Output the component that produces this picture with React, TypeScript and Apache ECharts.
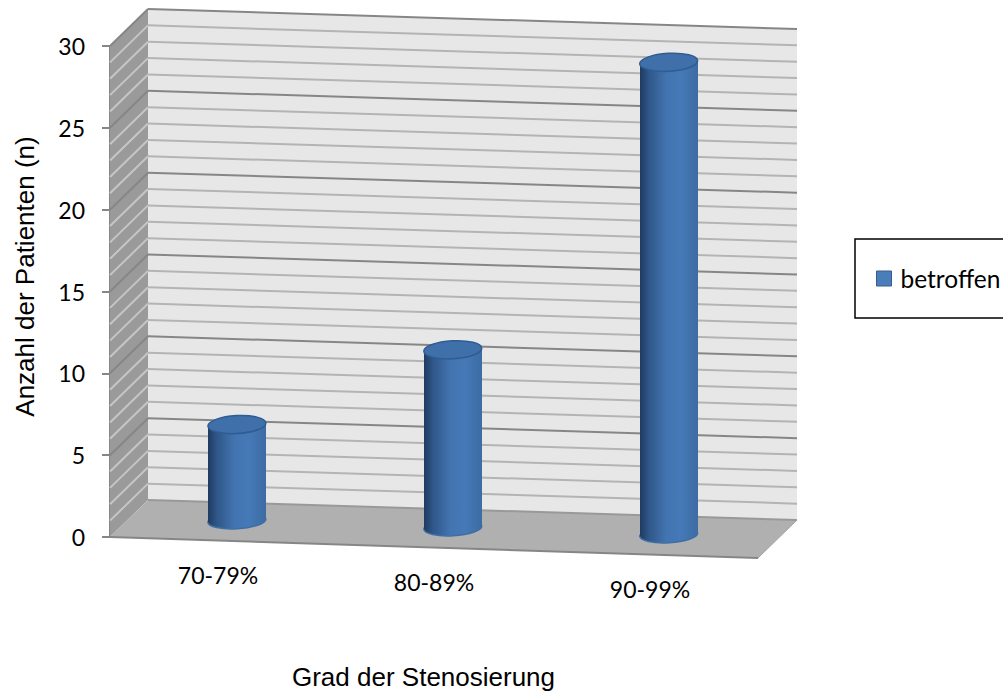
import React, { useEffect, useRef } from "react";
import * as echarts from "echarts";

const categories = ["70-79%", "80-89%", "90-99%"];
const patients = [6, 11, 29];
const seriesName = "betroffen";
const xTitle = "Grad der Stenosierung";
const yTitle = "Anzahl der Patienten (n)";

// Oblique projection of the 3D box, in pixels
const DEPTH_X = 38;
const DEPTH_Y = -37;
const SKEW = 21 / 648;
const RADIUS = 29;
const RY_TOP = 9;
const RY_BASE = 8;
const TILT = 0.055;

const WALL = "#e7e7e7";
const SIDE = "#9a9a9a";
const FLOOR = "#b0b0b0";
const MAJOR = "#868686";
const MINOR = "#b4b4b4";
const SIDE_MINOR = "#c6c6c6";

const cylinderFill = () =>
  new echarts.graphic.LinearGradient(0, 0, 1, 0, [
    { offset: 0, color: "#1f3b60" },
    { offset: 0.15, color: "#2f5688" },
    { offset: 0.45, color: "#4274b0" },
    { offset: 0.7, color: "#4579b7" },
    { offset: 1, color: "#3d6ca3" },
  ]);

function line(x1: number, y1: number, x2: number, y2: number, stroke: string, lineWidth = 2) {
  return { type: "line", silent: true, shape: { x1, y1, x2, y2 }, style: { stroke, lineWidth } };
}

function poly(points: number[][], fill: string) {
  return { type: "polygon", silent: true, shape: { points }, style: { fill } };
}

// Back wall, side wall, floor and their gridlines, all placed through the axes
function renderBox(params: any, api: any) {
  const y0 = api.coord([0, 0])[1];
  const rect = params.coordSys;
  const left = rect.x;
  const x1 = rect.x + rect.width;
  const skew = rect.width * SKEW;
  const yTop = rect.y;
  const children: any[] = [
    poly(
      [
        [left + DEPTH_X, yTop + DEPTH_Y],
        [x1 + DEPTH_X + 1, yTop + DEPTH_Y + skew - 1],
        [x1 + DEPTH_X + 1, y0 + DEPTH_Y + skew - 1],
        [left + DEPTH_X, y0 + DEPTH_Y],
      ],
      WALL,
    ),
    poly(
      [
        [left, yTop],
        [left + DEPTH_X, yTop + DEPTH_Y],
        [left + DEPTH_X, y0 + DEPTH_Y],
        [left, y0],
      ],
      SIDE,
    ),
    poly(
      [
        [left, y0],
        [left + DEPTH_X, y0 + DEPTH_Y],
        [x1 + DEPTH_X + 1, y0 + DEPTH_Y + skew - 1],
        [x1, y0 + skew],
      ],
      FLOOR,
    ),
  ];
  for (let v = 1; v <= 30; v++) {
    const y = api.coord([0, v])[1];
    const major = v % 5 === 0;
    children.push(
      line(left, y, left + DEPTH_X, y + DEPTH_Y, major ? MAJOR : SIDE_MINOR),
      line(left + DEPTH_X, y + DEPTH_Y, x1 + DEPTH_X + 1, y + DEPTH_Y + skew - 1, major ? MAJOR : MINOR),
    );
  }
  children.push(
    line(left, y0, x1, y0 + skew, MAJOR),
    line(left + DEPTH_X, y0 + DEPTH_Y, x1 + DEPTH_X + 1, y0 + DEPTH_Y + skew - 1, "#999999"),
    line(x1, y0 + skew, x1 + DEPTH_X + 1, y0 + DEPTH_Y + skew - 1, "#a0a0a0", 1),
  );
  return { type: "group", children };
}

function ellipse(cx: number, cy: number, ry: number, fill: any, stroke: string) {
  return {
    type: "ellipse",
    silent: true,
    originX: cx,
    originY: cy,
    rotation: TILT,
    shape: { cx, cy, rx: RADIUS, ry },
    style: { fill, stroke, lineWidth: 1.5 },
  };
}

// One cylinder standing halfway into the floor
function renderCylinder(params: any, api: any) {
  const base = api.coord([api.value(0), 0]);
  const top = api.coord([api.value(0), api.value(1)]);
  const rect = params.coordSys;
  const drift = (base[0] - rect.x) * SKEW;
  const cx = base[0] + DEPTH_X / 2;
  const yBase = base[1] + drift + DEPTH_Y / 2 - 1;
  const yTop = top[1] + drift + DEPTH_Y / 2 + 1;
  const lift = RADIUS * Math.sin(TILT);
  return {
    type: "group",
    children: [
      ellipse(cx, yBase, RY_BASE, cylinderFill(), "#3f6ea6"),
      {
        type: "polygon",
        silent: true,
        shape: {
          points: [
            [cx - RADIUS, yTop + lift],
            [cx + RADIUS, yTop - lift],
            [cx + RADIUS, yBase - lift],
            [cx - RADIUS, yBase + lift],
          ],
        },
        style: { fill: cylinderFill() },
      },
      ellipse(cx, yTop, RY_TOP, "#3f70aa", "#2f5c92"),
    ],
  };
}

export default function App() {
  const ref = useRef<HTMLDivElement>(null);
  useEffect(() => {
    const chart = echarts.init(ref.current!, null, { renderer: "svg" });
    chart.setOption({
      animation: false,
      backgroundColor: "#ffffff",
      grid: { left: 110, top: 46, width: 648, height: 491, outerBoundsMode: "none" },
      legend: {
        left: 855,
        top: 239,
        orient: "horizontal",
        data: [{ name: seriesName, icon: "rect" }],
        padding: [27, 40, 27, 21],
        itemWidth: 15,
        itemHeight: 15,
        itemGap: 0,
        borderColor: "#000000",
        borderWidth: 1.5,
        selectedMode: false,
        itemStyle: { color: "#4a7ebb", borderColor: "#385d8a", borderWidth: 1 },
        textStyle: { fontFamily: "Lato", fontSize: 24.5, color: "#000000", padding: [0, 0, 0, 4] },
      },
      xAxis: {
        type: "category",
        data: categories,
        name: xTitle,
        nameLocation: "center",
        nameGap: 127,
        nameTextStyle: {
          fontFamily: "Liberation Sans",
          fontSize: 26,
          color: "#000000",
          padding: [0, 21, 0, 0],
        },
        axisLine: { show: false },
        axisTick: { show: false },
        axisLabel: {
          margin: 26,
          fontFamily: "Lato",
          fontSize: 23,
          color: "#000000",
          // The labels follow the slope of the floor's front edge
          formatter: (v: string) => `{s${categories.indexOf(v)}|${v}}`,
          rich: {
            s0: { fontFamily: "Lato", fontSize: 23, color: "#000000" },
            s1: { fontFamily: "Lato", fontSize: 23, color: "#000000", padding: [7, 0, 0, 0] },
            s2: { fontFamily: "Lato", fontSize: 23, color: "#000000", padding: [14, 0, 0, 0] },
          },
        },
        splitLine: { show: false },
      },
      yAxis: {
        type: "value",
        min: 0,
        max: 30,
        interval: 5,
        name: yTitle,
        nameLocation: "center",
        nameGap: 72,
        nameRotate: 90,
        nameTextStyle: {
          fontFamily: "Liberation Sans",
          fontSize: 26,
          color: "#000000",
          padding: [0, 0, 0, 30],
        },
        axisLine: { show: true, onZero: false, lineStyle: { color: MAJOR, width: 2 } },
        axisTick: { show: true, length: 8, lineStyle: { color: MAJOR, width: 2 } },
        axisLabel: { margin: 25, fontFamily: "Lato", fontSize: 23, color: "#000000" },
        splitLine: { show: false },
      },
      series: [
        {
          name: "box",
          type: "custom",
          coordinateSystem: "cartesian2d",
          silent: true,
          clip: false,
          z: 1,
          data: [[0, 0]],
          renderItem: renderBox,
        },
        {
          name: seriesName,
          type: "custom",
          coordinateSystem: "cartesian2d",
          silent: true,
          clip: false,
          z: 2,
          itemStyle: { color: "#4a7ebb" },
          encode: { x: 0, y: 1 },
          data: patients.map((v, i) => [i, v]),
          renderItem: renderCylinder,
        },
      ],
    });
    return () => chart.dispose();
  }, []);
  return (
    <div
      ref={ref}
      style={{ position: "absolute", left: 0, top: 0, width: 1003, height: 693, overflow: "hidden" }}
    />
  );
}
